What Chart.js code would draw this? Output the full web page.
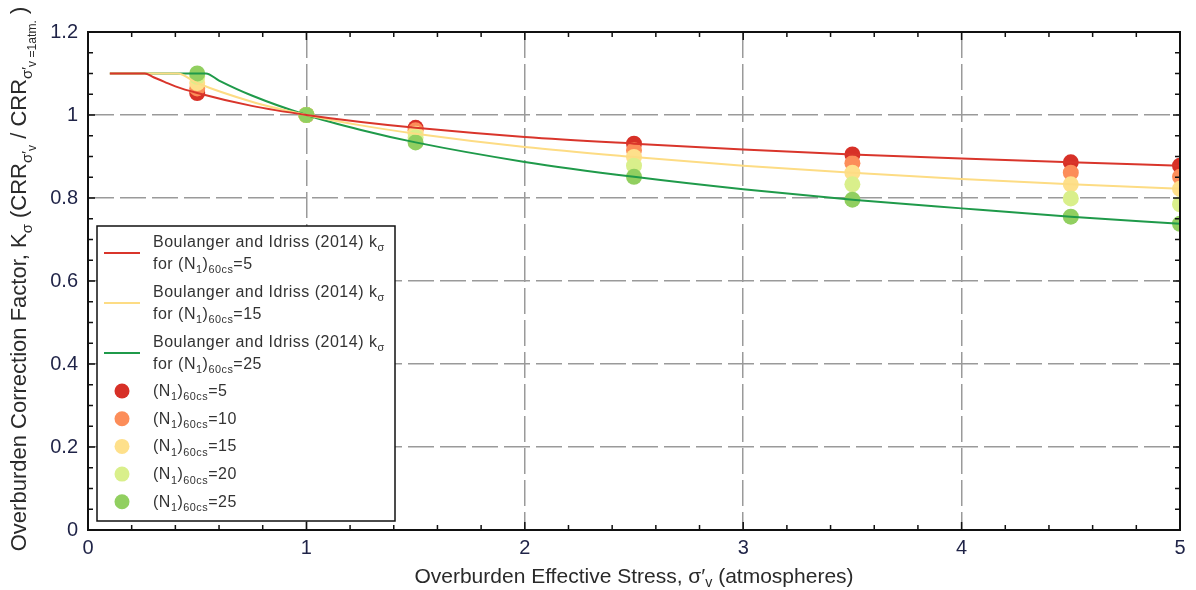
<!DOCTYPE html>
<html>
<head>
<meta charset="utf-8">
<script src="https://cdn.jsdelivr.net/npm/chart.js@4"></script>
<style>
  html, body { margin: 0; padding: 0; background: #fff; }
  #wrap { width: 1196px; height: 590px; }
</style>
</head>
<body>
<div id="wrap"><canvas id="ksigmaChart" width="1196" height="590"></canvas></div>
<script>
// Overburden stress (atm) where the points were plotted
const stressPoints = [0.5, 1, 1.5, 2.5, 3.5, 4.5, 5];

// K-sigma values for each (N1)60cs
const kN5  = [1.053, 1.0, 0.969, 0.931, 0.905, 0.886, 0.878];
const kN10 = [1.064, 1.0, 0.963, 0.915, 0.884, 0.861, 0.851];
const kN15 = [1.077, 1.0, 0.955, 0.899, 0.861, 0.833, 0.822];
const kN20 = [1.092, 1.0, 0.946, 0.878, 0.833, 0.799, 0.785];
const kN25 = [1.100, 1.0, 0.934, 0.851, 0.796, 0.755, 0.738];

// Boulanger and Idriss (2014) curves
const curveN5X  = [0.1, 0.26, 0.3, 0.35, 0.4, 0.5, 0.75, 1, 1.25, 1.5, 2, 2.5, 3, 3.5, 4, 4.5, 5];
const curveN5Y  = [1.1, 1.1, 1.091, 1.08, 1.069, 1.053, 1.022, 1.0, 0.983, 0.969, 0.947, 0.931, 0.917, 0.905, 0.895, 0.886, 0.878];
const curveN15X = [0.1, 0.41, 0.5, 0.75, 1, 1.25, 1.5, 2, 2.5, 3, 3.5, 4, 4.5, 5];
const curveN15Y = [1.1, 1.1, 1.077, 1.032, 1.0, 0.975, 0.955, 0.923, 0.899, 0.878, 0.861, 0.846, 0.833, 0.822];
const curveN25X = [0.1, 0.54, 0.6, 0.75, 1, 1.25, 1.5, 2, 2.5, 3, 3.5, 4, 4.5, 5];
const curveN25Y = [1.1, 1.1, 1.083, 1.047, 1.0, 0.964, 0.934, 0.887, 0.851, 0.821, 0.796, 0.775, 0.755, 0.738];

const pointLabels = ["5", "10", "15", "20", "25"];
const pointColors = ["#d73027", "#fc8d59", "#fee08b", "#d9ef8b", "#91cf60"];
const curveLabels = ["5", "15", "25"];
const curveColors = ["#d9352b", "#fddc84", "#1f9a4a"];

const FONT = '"Liberation Sans", Arial, sans-serif';

function toXY(xs, ys) {
    return xs.map((x, i) => ({ x: x, y: ys[i] }));
}

// draw text with subscripts: parts = [[text, level], ...]
function drawRich(ctx, parts, x, y, size, align, subShift) {
    const sizes = [size, size * 0.68, size * 0.55];
    const k = subShift || 1;
    const shifts = [0, size * 0.28 * k, size * 0.45 * k];
    let total = 0;
    const widths = [];
    parts.forEach(([t, lv]) => {
        ctx.font = sizes[lv] + "px " + FONT;
        const w = ctx.measureText(t).width;
        widths.push(w);
        total += w;
    });
    let cx = align === "center" ? x - total / 2 : x;
    ctx.textAlign = "left";
    ctx.textBaseline = "alphabetic";
    parts.forEach(([t, lv], i) => {
        ctx.font = sizes[lv] + "px " + FONT;
        ctx.fillText(t, cx, y + shifts[lv]);
        cx += widths[i];
    });
}

function nLabel(n) {
    return [["(N", 0], ["1", 1], [")", 0], ["60cs", 1], ["=" + n, 0]];
}

const decorPlugin = {
    id: "decor",
    afterDraw(chart) {
        const ctx = chart.ctx;
        const a = chart.chartArea;
        const xs = chart.scales.x;
        const ys = chart.scales.y;
        ctx.save();

        // frame
        ctx.strokeStyle = "#111";
        ctx.lineWidth = 2;
        ctx.strokeRect(a.left, a.top, a.right - a.left, a.bottom - a.top);

        // inward ticks
        ctx.lineWidth = 1.5;
        ctx.beginPath();
        for (let i = 0; i <= 24; i++) {
            const py = ys.getPixelForValue(i * 0.05);
            const len = i % 4 === 0 ? 7 : 5;
            ctx.moveTo(a.left, py); ctx.lineTo(a.left + len, py);
            ctx.moveTo(a.right, py); ctx.lineTo(a.right - len, py);
        }
        for (let i = 0; i <= 25; i++) {
            const px = xs.getPixelForValue(i * 0.2);
            const len = i % 5 === 0 ? 8 : 5;
            ctx.moveTo(px, a.bottom); ctx.lineTo(px, a.bottom - len);
            ctx.moveTo(px, a.top); ctx.lineTo(px, a.top + len);
        }
        ctx.stroke();

        // axis titles
        ctx.fillStyle = "#2a2a2a";
        drawRich(ctx, [["Overburden Effective Stress, σ′", 0], ["v", 1], [" (atmospheres)", 0]],
            (a.left + a.right) / 2, 583, 21, "center", 0.7);
        ctx.save();
        ctx.translate(26, (a.top + a.bottom) / 2 - 2);
        ctx.rotate(-Math.PI / 2);
        drawRich(ctx, [
            ["Overburden Correction Factor, K", 0], ["σ", 1],
            [" (CRR", 0], ["σ′", 1], ["v", 2],
            [" / CRR", 0], ["σ′", 1], ["v", 2], [" =1atm.", 2], [" )", 0]
        ], 0, 0, 22, "center");
        ctx.restore();

        // legend box
        const bx = 97, by = 226, bw = 298, bh = 295;
        ctx.fillStyle = "#fff";
        ctx.fillRect(bx, by, bw, bh);
        ctx.strokeStyle = "#111";
        ctx.lineWidth = 1.5;
        ctx.strokeRect(bx, by, bw, bh);

        ctx.fillStyle = "#333";
        ctx.letterSpacing = "0.5px";
        curveLabels.forEach((n, i) => {
            const cy = 253 + i * 50;
            ctx.strokeStyle = curveColors[i];
            ctx.lineWidth = 2;
            ctx.beginPath();
            ctx.moveTo(104, cy); ctx.lineTo(140, cy);
            ctx.stroke();
            drawRich(ctx, [["Boulanger and Idriss (2014) k", 0], ["σ", 1]], 153, cy - 6, 16, "left");
            drawRich(ctx, [["for ", 0]].concat(nLabel(n)), 153, cy + 16, 16, "left");
        });
        pointLabels.forEach((n, i) => {
            const cy = 391 + i * 27.7;
            ctx.fillStyle = pointColors[i];
            ctx.beginPath();
            ctx.arc(122, cy, 7.5, 0, Math.PI * 2);
            ctx.fill();
            ctx.fillStyle = "#333";
            drawRich(ctx, nLabel(n), 153, cy + 5, 16, "left");
        });
        ctx.restore();
    }
};

const pointSets = [kN5, kN10, kN15, kN20, kN25].map((vals, i) => ({
    label: "(N1)60cs=" + pointLabels[i],
    data: toXY(stressPoints, vals),
    backgroundColor: pointColors[i],
    borderWidth: 0,
    pointRadius: 8,
    showLine: false,
    clip: 0,
    order: 10 - i
}));

const curveSets = [[curveN5X, curveN5Y], [curveN15X, curveN15Y], [curveN25X, curveN25Y]].map((c, i) => ({
    label: "Boulanger and Idriss (2014) for (N1)60cs=" + curveLabels[i],
    data: toXY(c[0], c[1]),
    borderColor: curveColors[i],
    borderWidth: 2,
    pointRadius: 0,
    showLine: true,
    cubicInterpolationMode: "monotone",
    clip: 0,
    order: 1
}));

new Chart(document.getElementById("ksigmaChart"), {
    type: "scatter",
    data: { datasets: pointSets.concat(curveSets) },
    options: {
        responsive: false,
        animation: false,
        layout: { padding: { left: 0, right: 16, top: 32, bottom: 0 } },
        plugins: { legend: { display: false }, tooltip: { enabled: false } },
        scales: {
            x: {
                type: "linear", min: 0, max: 5,
                afterFit(scale) { scale.height = 60; },
                ticks: { stepSize: 1, padding: 6, color: "#1f2347", font: { family: FONT, size: 20 } },
                grid: { color: "#9a9a9a", lineWidth: 1.5, drawTicks: false },
                border: { display: false, dash: [26, 6] }
            },
            y: {
                type: "linear", min: 0, max: 1.2,
                afterFit(scale) { scale.width = 88; },
                ticks: {
                    stepSize: 0.2, padding: 10, color: "#1f2347", font: { family: FONT, size: 20 },
                    callback: v => String(Number(v.toFixed(1)))
                },
                grid: { color: "#9a9a9a", lineWidth: 1.5, drawTicks: false },
                border: { display: false, dash: [26, 6] }
            }
        }
    },
    plugins: [decorPlugin]
});
</script>
</body>
</html>
